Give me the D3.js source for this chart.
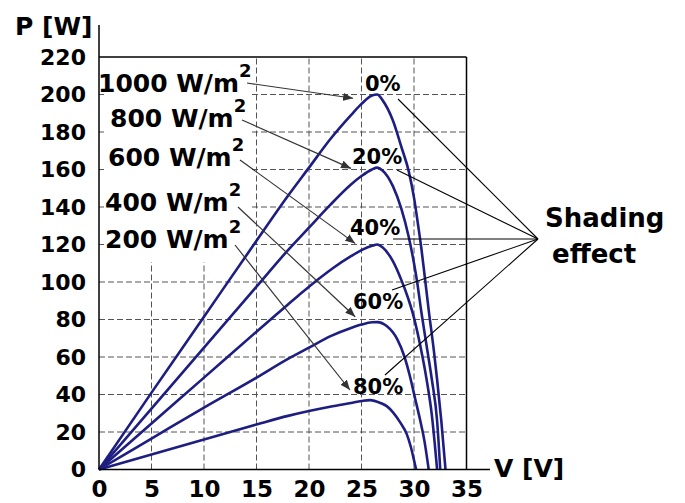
<!DOCTYPE html>
<html>
<head>
<meta charset="utf-8">
<script src="https://cdn.jsdelivr.net/npm/d3@7"></script>
<style>
  body { margin: 0; background: #fff; }
  text { font-family: "DejaVu Sans", sans-serif; font-weight: bold; fill: #000; }
</style>
</head>
<body>
<div id="chart"></div>
<script>
// axis ticks
var xTicks = [0, 5, 10, 15, 20, 25, 30, 35];
var yTicks = [0, 20, 40, 60, 80, 100, 120, 140, 160, 180, 200, 220];

// labels
var irradiance = ["1000", "800", "600", "400", "200"];
var shading = ["0%", "20%", "40%", "60%", "80%"];

// P-V curves, [V, P]
var curve1000 = [[0,0],[5,41],[10,81.5],[15,122],[18,146],[20,161],[22,176],[24,189],[25,195],[26,199.5],[26.5,200],[27,197],[28,186],[28.8,172],[29.5,159],[30,145],[30.4,130],[30.7,118],[31,104],[31.4,85],[31.9,63],[32.2,48],[32.6,26],[33,0]];
var curve800 = [[0,0],[5,32.5],[10,65],[15,97.5],[18,117],[20,129],[22,141],[24,152],[25,156.5],[26,160],[26.5,161],[27,159.5],[28,151],[28.8,139],[29.5,124],[30,110],[30.3,100],[30.7,84],[31.2,66],[31.7,48],[32.2,26],[32.5,0]];
var curve600 = [[0,0],[5,24.5],[10,49],[15,73.5],[17,83.2],[19,92.8],[21,102],[22.3,107.5],[24,113.8],[25,117],[26,119.3],[26.5,120],[27,118.5],[28,111],[28.8,101],[29.4,92],[29.9,83],[30.6,66],[31.2,48],[31.7,29],[32.2,0]];
var curve400 = [[0,0],[5,16.5],[10,33],[15,49],[18,59],[20,65],[22,71],[24,75.5],[25,77.3],[26,78.5],[26.5,78.6],[27.4,76.5],[28.4,69.5],[29.1,60],[29.6,50],[30.1,38],[30.6,26],[31,15],[31.4,0]];
var curve200 = [[0,0],[5,8],[10,16],[15,24],[18,28.6],[20,31.2],[22,33.5],[24,35.5],[25,36.5],[25.8,37],[26.8,35.5],[27.4,33.8],[28,30.5],[28.7,25],[29.3,19],[29.7,12],[30,5],[30.2,0]];

var curves = [curve1000, curve800, curve600, curve400, curve200];

var svg = d3.select("#chart").append("svg").attr("width", 685).attr("height", 503);
svg.append("rect").attr("width", 685).attr("height", 503).attr("fill", "#fff");

var x = d3.scaleLinear().domain([0, 35]).range([99, 466.5]);
var y = d3.scaleLinear().domain([0, 220]).range([469.5, 57]);

var defs = svg.append("defs");
defs.append("marker")
    .attr("id", "arrow")
    .attr("viewBox", "0 0 10 8")
    .attr("refX", 10).attr("refY", 4)
    .attr("markerWidth", 10).attr("markerHeight", 8)
    .attr("markerUnits", "userSpaceOnUse")
    .attr("orient", "auto")
  .append("path").attr("d", "M0,0L10,4L0,8Z").attr("fill", "#333");

// dashed grid
var grid = svg.append("g").attr("stroke", "#555").attr("stroke-width", 1).attr("stroke-dasharray", "6,3");
grid.selectAll(".vx").data(xTicks.slice(1, -1)).enter().append("line")
    .attr("x1", function(d) { return x(d); }).attr("x2", function(d) { return x(d); })
    .attr("y1", y(0)).attr("y2", y(220));
grid.selectAll(".hy").data(yTicks.slice(1, -1)).enter().append("line")
    .attr("x1", x(0)).attr("x2", x(35))
    .attr("y1", function(d) { return y(d); }).attr("y2", function(d) { return y(d); });

// white panel behind the irradiance labels
svg.append("rect").attr("x", 104).attr("y", 58).attr("width", 148).attr("height", 204).attr("fill", "#fff");

// curves
var line = d3.line()
    .x(function(d) { return x(d[0]); })
    .y(function(d) { return y(d[1]); })
    .curve(d3.curveMonotoneX);

svg.append("g").selectAll("path").data(curves).enter().append("path")
    .attr("d", line)
    .attr("fill", "none")
    .attr("stroke", "#1e1e82")
    .attr("stroke-width", 2.6)
    .attr("stroke-linejoin", "round");

// frame / axes lines
var frame = svg.append("g").attr("stroke", "#000").attr("stroke-width", 1.5);
frame.append("line").attr("x1", x(0)).attr("x2", x(35)).attr("y1", y(220)).attr("y2", y(220));
frame.append("line").attr("x1", x(35)).attr("x2", x(35)).attr("y1", y(220)).attr("y2", y(0));
frame.append("line").attr("x1", x(0)).attr("x2", x(0)).attr("y1", 25).attr("y2", y(0));
frame.append("line").attr("x1", x(0)).attr("x2", 490).attr("y1", y(0)).attr("y2", y(0));

// tick labels
var gx = svg.append("g")
    .attr("transform", "translate(0," + y(0) + ")")
    .call(d3.axisBottom(x).tickValues(xTicks).tickSize(0).tickPadding(11));
gx.select(".domain").remove();
gx.attr("font-family", null).attr("font-size", null);
gx.selectAll("text").attr("font-size", 23).attr("fill", "#000");

var gy = svg.append("g")
    .attr("transform", "translate(" + x(0) + ",0)")
    .call(d3.axisLeft(y).tickValues(yTicks).tickSize(0).tickPadding(13));
gy.select(".domain").remove();
gy.attr("font-family", null).attr("font-size", null);
gy.selectAll("text").attr("font-size", 22).attr("fill", "#000");

// axis titles
svg.append("text").attr("x", 15).attr("y", 35).attr("font-size", 25).text("P [W]");
svg.append("text").attr("x", 494).attr("y", 477).attr("font-size", 25).text("V [V]");

// irradiance labels with arrows to curve peaks
var irrLabelX = [98, 110, 108, 105, 105];
var irrLabelY = [92, 127, 166, 211, 248];
var arrowFrom = [[247, 83], [242, 120], [240, 160], [238, 207], [235, 245]];
var arrowTo = [[24.2, 198], [24.0, 160.6], [24.4, 120.6], [24.4, 81.5], [23.9, 42.4]];

var irr = svg.append("g");
irr.selectAll("line").data(irradiance).enter().append("line")
    .attr("x1", function(d, i) { return arrowFrom[i][0]; })
    .attr("y1", function(d, i) { return arrowFrom[i][1]; })
    .attr("x2", function(d, i) { return x(arrowTo[i][0]); })
    .attr("y2", function(d, i) { return y(arrowTo[i][1]); })
    .attr("stroke", "#333").attr("stroke-width", 1.2)
    .attr("marker-end", "url(#arrow)");

var irrText = irr.selectAll("text").data(irradiance).enter().append("text")
    .attr("x", function(d, i) { return irrLabelX[i]; })
    .attr("y", function(d, i) { return irrLabelY[i]; })
    .attr("font-size", 25);
irrText.append("tspan").text(function(d) { return d + " W/m"; });
irrText.append("tspan").attr("dy", -15).attr("font-size", 18).text("2");

// shading labels and leader lines
var shadeX = [365, 352, 350, 353, 353];
var shadeY = [91, 164, 235, 309, 394];
var leaderEnd = [[398, 99], [397, 170], [393, 239], [392, 290], [385, 375]];
var hub = [538, 239];

svg.append("g").selectAll("line").data(leaderEnd).enter().append("line")
    .attr("x1", hub[0]).attr("y1", hub[1])
    .attr("x2", function(d) { return d[0]; }).attr("y2", function(d) { return d[1]; })
    .attr("stroke", "#000").attr("stroke-width", 1.1);

svg.append("g").selectAll("text").data(shading).enter().append("text")
    .attr("x", function(d, i) { return shadeX[i]; })
    .attr("y", function(d, i) { return shadeY[i]; })
    .attr("font-size", 21)
    .text(function(d) { return d; });

svg.append("text").attr("x", 545).attr("y", 227).attr("font-size", 26).text("Shading");
svg.append("text").attr("x", 552).attr("y", 263).attr("font-size", 26).text("effect");
</script>
</body>
</html>
